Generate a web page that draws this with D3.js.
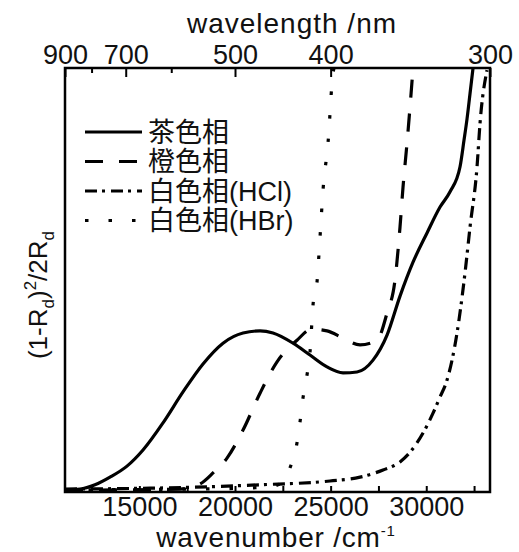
<!DOCTYPE html>
<html>
<head>
<meta charset="utf-8">
<script src="https://cdn.jsdelivr.net/npm/d3@7"></script>
<style>
  body { margin: 0; background: #fff; }
  text { font-family: "Liberation Sans", Arial, sans-serif; fill: #111; }
  .legend text { font-family: "Liberation Sans", "Noto Sans CJK SC", sans-serif; }
</style>
</head>
<body>
<div class="canvas"></div>
<script>
// series names (legend order)
const seriesNames = ['茶色相', '橙色相', '白色相(HCl)', '白色相(HBr)'];

// wavenumber (cm-1) / (1-Rd)^2/2Rd (arb. units)
const brownWn  = [11111, 11895, 12680, 13464, 14353, 15190, 16235, 17281, 18327, 19373, 20419, 21308, 21987, 23033, 23922, 24811, 25648, 26380, 27216, 27949, 28628, 29308, 30040, 30720, 31243, 31766, 31975, 32132, 32289, 32446];
const brownVal = [0.005, 0.007, 0.017, 0.035, 0.061, 0.099, 0.163, 0.236, 0.302, 0.351, 0.375, 0.380, 0.375, 0.351, 0.323, 0.295, 0.281, 0.283, 0.311, 0.370, 0.462, 0.542, 0.611, 0.672, 0.708, 0.767, 0.830, 0.880, 0.940, 1.0];

const orangeWn  = [11111, 17124, 18170, 18850, 19582, 20419, 21308, 22197, 23242, 24000, 24811, 25648, 26537, 27426, 27949, 28366, 28628, 28785, 28994, 29151, 29308];
const orangeVal = [0.004, 0.007, 0.019, 0.045, 0.080, 0.146, 0.233, 0.307, 0.358, 0.384, 0.380, 0.363, 0.347, 0.358, 0.422, 0.500, 0.625, 0.719, 0.823, 0.908, 1.0];

const hclWn  = [11111, 15556, 21308, 24968, 26537, 27740, 28628, 29151, 29831, 30354, 30720, 31086, 31609, 32027, 32289, 32655, 32812, 33178];
const hclVal = [0.007, 0.009, 0.017, 0.026, 0.035, 0.052, 0.071, 0.094, 0.139, 0.186, 0.224, 0.264, 0.375, 0.517, 0.625, 0.767, 0.870, 0.995];

const hbrWn  = [11111, 18170, 21830, 22615, 22876, 23242, 23399, 23556, 23765, 23922, 24079, 24288, 24445, 24602, 24863, 25125, 25177];
const hbrVal = [0.005, 0.007, 0.012, 0.028, 0.057, 0.116, 0.165, 0.222, 0.276, 0.330, 0.441, 0.495, 0.601, 0.712, 0.823, 0.988, 1.0];

// axis ticks
const bottomTicks = [12500, 15000, 17500, 20000, 22500, 25000, 27500, 30000, 32500];
const bottomLabels = [15000, 20000, 25000, 30000];
const topTicksNm = [900, 800, 700, 600, 500, 400, 300];
const topLabelsNm = [900, 700, 500, 400, 300];

draw_chart();

function draw_chart(){

    const width = 519, height = 552;
    const left = 65, right = 490, top = 68, bottom = 492;

    const svg = d3.select('.canvas')
        .append('svg')
        .attr('width', width)
        .attr('height', height);

    const x = d3.scaleLinear().domain([11111, 33333]).range([left, right]);
    const y = d3.scaleLinear().domain([0, 1]).range([bottom, top]);

    svg.append('clipPath').attr('id', 'plot')
        .append('rect')
        .attr('x', left).attr('y', top)
        .attr('width', right - left).attr('height', bottom - top);

    const series = [
        { name: seriesNames[0], wn: brownWn,  val: brownVal,  dash: null },
        { name: seriesNames[1], wn: orangeWn, val: orangeVal, dash: '18,16' },
        { name: seriesNames[2], wn: hclWn,    val: hclVal,    dash: '12,5,3,6' },
        { name: seriesNames[3], wn: hbrWn,    val: hbrVal,    dash: '3.5,20' }
    ];

    const line = d3.line()
        .x(d => x(d[0]))
        .y(d => y(d[1]))
        .curve(d3.curveMonotoneX);

    svg.append('g')
        .attr('clip-path', 'url(#plot)')
        .selectAll('path')
        .data(series)
        .enter()
        .append('path')
        .attr('d', s => line(d3.zip(s.wn, s.val)))
        .attr('fill', 'none')
        .attr('stroke', '#000')
        .attr('stroke-width', 3.2)
        .attr('stroke-dasharray', s => s.dash);

    // bottom axis, ticks pointing inward
    const xAxis = d3.axisBottom(x)
        .tickValues(bottomTicks)
        .tickSize(-6)
        .tickPadding(5)
        .tickFormat(d => bottomLabels.includes(d) ? d : '');

    const gx = svg.append('g')
        .attr('transform', `translate(0,${bottom})`)
        .call(xAxis);

    // top axis: wavelength in nm
    const topAxis = d3.axisTop(x)
        .tickValues(topTicksNm.map(nm => 1e7 / nm))
        .tickSize(-8)
        .tickPadding(4)
        .tickFormat(d => {
            const nm = Math.round(1e7 / d);
            return topLabelsNm.includes(nm) ? nm : '';
        });

    const gt = svg.append('g')
        .attr('transform', `translate(0,${top})`)
        .call(topAxis);

    gt.selectAll('.tick line')
        .attr('y2', d => topLabelsNm.includes(Math.round(1e7 / d)) ? 9 : 5);

    [gx, gt].forEach(g => {
        g.select('.domain').remove();
        g.selectAll('.tick line').attr('stroke', '#000').attr('stroke-width', 2);
        g.selectAll('.tick text')
            .style('font-size', '27px')
            .attr('fill', '#111');
    });

    // frame
    svg.append('rect')
        .attr('x', left).attr('y', top)
        .attr('width', right - left).attr('height', bottom - top)
        .attr('fill', 'none')
        .attr('stroke', '#000')
        .attr('stroke-width', 2.5);

    // axis titles
    svg.append('text')
        .attr('x', 292).attr('y', 33)
        .attr('text-anchor', 'middle')
        .style('font-size', '28px')
        .style('letter-spacing', '1px')
        .text('wavelength /nm');

    const xt = svg.append('text')
        .attr('x', 276).attr('y', 547)
        .attr('text-anchor', 'middle')
        .style('font-size', '28px')
        .style('letter-spacing', '0.8px');
    xt.append('tspan').text('wavenumber /cm');
    xt.append('tspan').attr('dy', -11).style('font-size', '15px').text('-1');

    const yt = svg.append('text')
        .attr('transform', 'translate(47,295) rotate(-90)')
        .attr('text-anchor', 'middle')
        .style('font-size', '26px');
    yt.append('tspan').text('(1-R');
    yt.append('tspan').attr('dy', 7).style('font-size', '17px').text('d');
    yt.append('tspan').attr('dy', -7).text(')');
    yt.append('tspan').attr('dy', -11).style('font-size', '17px').text('2');
    yt.append('tspan').attr('dy', 11).text('/2R');
    yt.append('tspan').attr('dy', 7).style('font-size', '17px').text('d');

    // legend
    const legend = svg.append('g').attr('class', 'legend');
    const rows = legend.selectAll('g')
        .data(series)
        .enter()
        .append('g')
        .attr('transform', (d, i) => `translate(85,${132 + i * 29.5})`);

    rows.append('line')
        .attr('x1', 0).attr('x2', 57)
        .attr('stroke', '#000')
        .attr('stroke-width', 3.2)
        .attr('stroke-dasharray', d => d.dash);

    rows.append('text')
        .attr('x', 63)
        .attr('dy', '0.36em')
        .style('font-size', '27px')
        .text(d => d.name);
}
</script>
</body>
</html>
